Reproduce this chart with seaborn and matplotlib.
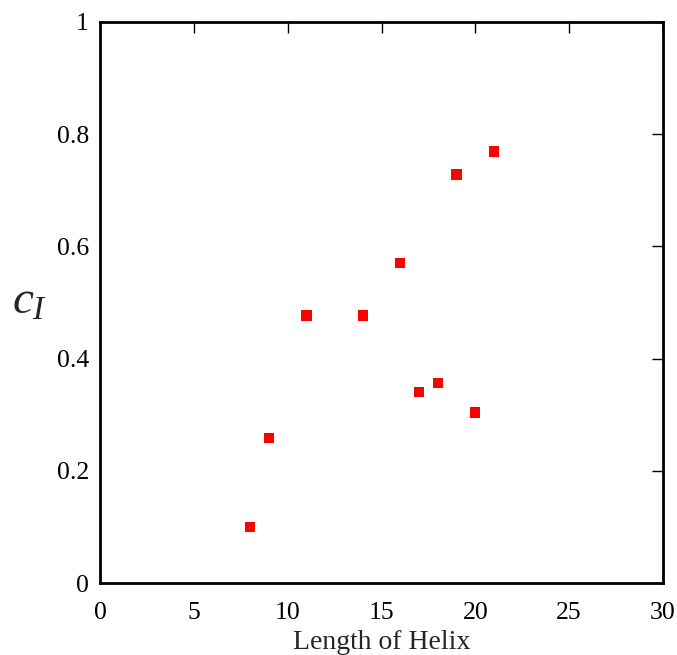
import matplotlib
matplotlib.use("Agg")
import matplotlib.pyplot as plt
import seaborn as sns
import pandas as pd

helix_length = [8, 9, 11, 14, 16, 17, 18, 19, 20, 21]
c1_values = [0.10, 0.258, 0.477, 0.477, 0.570, 0.341, 0.357, 0.728, 0.304, 0.769]
x_ticks = [0, 5, 10, 15, 20, 25, 30]
y_ticks = [0, 0.2, 0.4, 0.6, 0.8, 1]
y_tick_labels = ["0", "0.2", "0.4", "0.6", "0.8", "1"]

sns.set_theme(style="white")
plt.rcParams["font.family"] = ["Liberation Serif", "DejaVu Serif"]
plt.rcParams["mathtext.fontset"] = "custom"
plt.rcParams["mathtext.it"] = "Liberation Serif:italic"
plt.rcParams["mathtext.rm"] = "Liberation Serif"

df = pd.DataFrame({"x": helix_length, "y": c1_values})

fig = plt.figure(figsize=(6.77, 6.55), dpi=100)
ax = fig.add_axes([100 / 677, 1 - 583 / 655, 563 / 677, 561 / 655])

sns.scatterplot(data=df, x="x", y="y", ax=ax, marker="s", color="#ff0000",
                s=55, edgecolor="none", linewidth=0)

ax.set_xlim(0, 30)
ax.set_ylim(0, 1)
ax.set_xticks(x_ticks)
ax.set_yticks(y_ticks)
ax.set_yticklabels(y_tick_labels)
ax.tick_params(direction="in", length=8, width=1, top=True, right=True,
               labelsize=18.5, colors="#000000")
ax.tick_params(axis="y", pad=8)
ax.tick_params(axis="x", pad=14)
for sp in ax.spines.values():
    sp.set_linewidth(2)
    sp.set_color("#000000")

ax.set_xlabel("Length of Helix", fontsize=20, labelpad=4)
ax.set_ylabel("")
fig.text(30 / 677, 1 - 302 / 655, r"$c_{I}$", fontsize=34, ha="center", va="center")

fig.savefig("out.png", dpi=100)
